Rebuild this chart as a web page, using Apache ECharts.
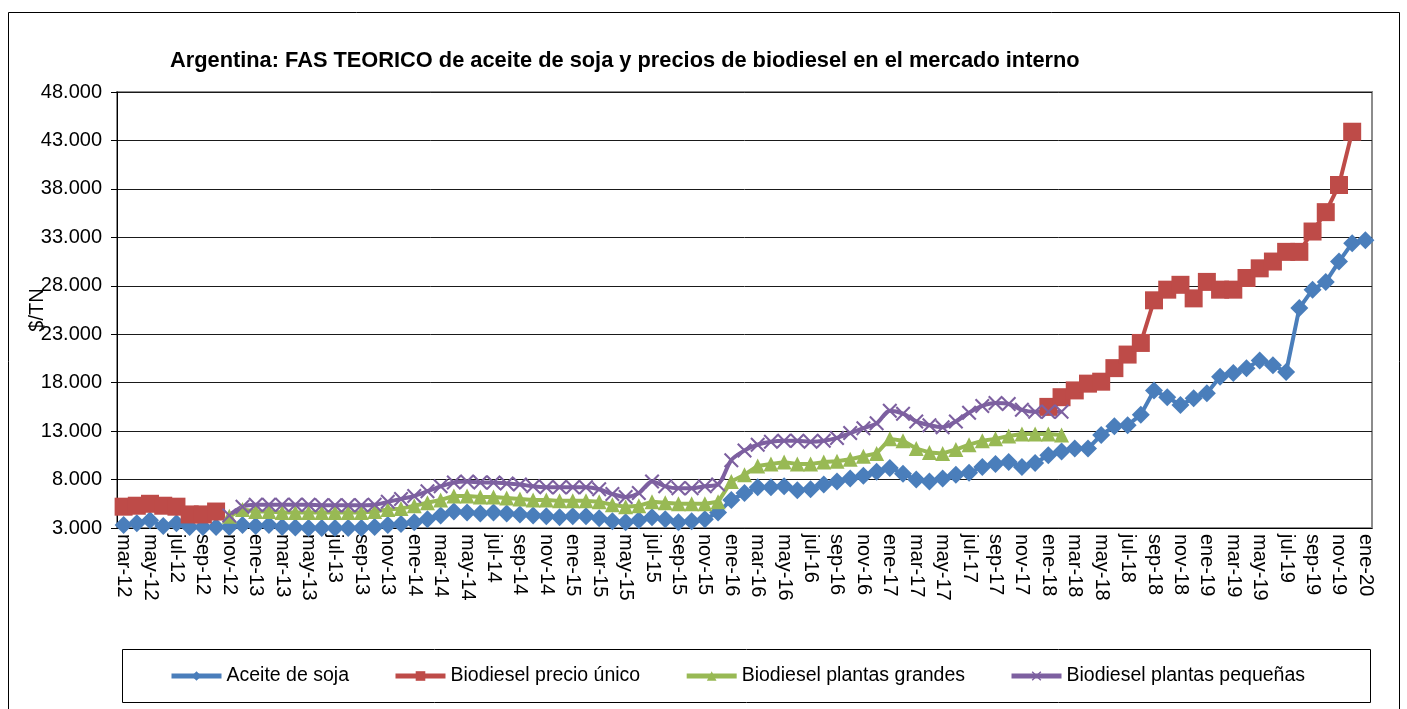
<!DOCTYPE html>
<html>
<head>
<meta charset="utf-8">
<script src="https://cdn.jsdelivr.net/npm/echarts@6.0.0/dist/echarts.min.js"></script>
<style>
  html, body { margin: 0; padding: 0; background: #fff; }
  #chart { width: 1407px; height: 709px; }
</style>
</head>
<body>
<div id="chart"></div>
<script>
// meses mar-12 .. ene-20
const meses = ['ene', 'feb', 'mar', 'abr', 'may', 'jun', 'jul', 'ago', 'sep', 'oct', 'nov', 'dic'];
const categorias = [];
for (let y = 12; y <= 20; y++) {
    for (let m = 0; m < 12; m++) {
        if ((y === 12 && m < 2) || (y === 20 && m > 0)) continue;
        categorias.push(meses[m] + '-' + y);
    }
}

// $/TN
const aceiteSoja = [
    3300, 3500, 3800, 3200, 3500, 3100, 3100, 3100, 3100, 3300,
    3200, 3300, 3100, 3050, 3000, 3000, 3000, 3000, 3000, 3100,
    3300, 3400, 3600, 3900, 4300, 4700, 4600, 4500, 4600, 4500,
    4400, 4300, 4200, 4100, 4200, 4200, 4000, 3700, 3600, 3800,
    4100, 3900, 3600, 3700, 3900, 4600, 5900, 6600, 7200, 7200,
    7300, 6900, 7000, 7500, 7800, 8100, 8400, 8800, 9200, 8600,
    8000, 7800, 8100, 8500, 8700, 9300, 9600, 9800, 9300, 9700,
    10500, 10900, 11200, 11200, 12600, 13500, 13600, 14700, 17200, 16500,
    15700, 16400, 16900, 18600, 19000, 19500, 20300, 19800, 19100, 25700,
    27600, 28400, 30500, 32400, 32700
];

const precioUnico = [
    5200, 5300, 5500, 5300, 5200, 4400, 4400, 4700, null, null,
    null, null, null, null, null, null, null, null, null, null,
    null, null, null, null, null, null, null, null, null, null,
    null, null, null, null, null, null, null, null, null, null,
    null, null, null, null, null, null, null, null, null, null,
    null, null, null, null, null, null, null, null, null, null,
    null, null, null, null, null, null, null, null, null, null,
    15500, 16500, 17200, 17900, 18100, 19500, 20900, 22100, 26500, 27600,
    28100, 26700, 28400, 27600, 27600, 28800, 29800, 30500, 31500, 31500,
    33600, 35600, 38400, 43900, null
];

const plantasGrandes = [
    null, null, null, null, null, null, null, null, 4200, 4900,
    4700, 4700, 4600, 4600, 4600, 4600, 4600, 4600, 4600, 4700,
    4900, 5000, 5300, 5600, 5900, 6300, 6300, 6200, 6200, 6100,
    6000, 5900, 5900, 5800, 5800, 5800, 5700, 5400, 5200, 5300,
    5700, 5600, 5500, 5500, 5500, 5700, 7800, 8500, 9400, 9600,
    9800, 9600, 9600, 9800, 9900, 10100, 10400, 10700, 12200, 12000,
    11200, 10800, 10700, 11100, 11600, 12000, 12200, 12500, 12700, 12700,
    12700, 12600
];

const plantasPequenas = [
    null, null, null, null, null, null, null, null, 4300, 5200,
    5400, 5400, 5400, 5400, 5400, 5350, 5350, 5350, 5350, 5400,
    5700, 6000, 6300, 6800, 7300, 7700, 7800, 7700, 7700, 7600,
    7500, 7300, 7200, 7200, 7200, 7200, 7000, 6500, 6200, 6600,
    7800, 7300, 7100, 7100, 7300, 7500, 10000, 11000, 11600, 11900,
    12000, 12000, 11900, 12000, 12300, 12800, 13300, 13800, 15100, 14800,
    14000, 13600, 13400, 14000, 14900, 15600, 15900, 15800, 15200, 15000,
    15000, 15000
];

const fuente = 'Liberation Sans, Arial, sans-serif';
const simboloX = 'path://M1,0 L5,4 L9,0 L10,1 L6,5 L10,9 L9,10 L5,6 L1,10 L0,9 L4,5 L0,1 Z';

function miles(v) {
    return String(Math.round(v / 1000)) + '.000';
}

const chart = echarts.init(document.getElementById('chart'));

const option = {
    animation: false,
    backgroundColor: '#fff',
    textStyle: { fontFamily: fuente, color: '#000' },
    title: {
        text: 'Argentina: FAS TEORICO de aceite de soja y precios de biodiesel en el mercado interno',
        left: 165,
        top: 45,
        textStyle: { fontFamily: fuente, fontSize: 21.8, fontWeight: 'bold', color: '#000' }
    },
    graphic: [
        {
            type: 'rect', silent: true, z: -1,
            shape: { x: 8.5, y: 12.5, width: 1391, height: 720 },
            style: { fill: 'none', stroke: '#000', lineWidth: 1 }
        },
        {
            type: 'rect', silent: true, z: -1,
            shape: { x: 122.5, y: 649.5, width: 1248, height: 53 },
            style: { fill: 'none', stroke: '#000', lineWidth: 1 }
        }
    ],
    legend: {
        left: 169,
        top: 666,
        padding: 0,
        itemWidth: 50,
        itemHeight: 12,
        itemGap: 44,
        lineStyle: { width: 5 },
        textStyle: { fontFamily: fuente, fontSize: 19.5, color: '#000' },
        data: ['Aceite de soja', 'Biodiesel precio único', 'Biodiesel plantas grandes', 'Biodiesel plantas pequeñas']
    },
    grid: {
        left: 117,
        right: 35,
        top: 92,
        bottom: 181,
        show: true,
        borderColor: '#8c8c8c',
        borderWidth: 2
    },
    xAxis: {
        type: 'category',
        data: categorias,
        boundaryGap: true,
        axisLine: { lineStyle: { color: '#000', width: 1 } },
        axisTick: { interval: 1, length: 6, lineStyle: { color: '#000' } },
        axisLabel: {
            interval: 1,
            rotate: -90,
            margin: 6,
            fontSize: 20,
            color: '#000',
            fontFamily: fuente
        }
    },
    yAxis: {
        type: 'value',
        min: 3000,
        max: 48000,
        interval: 5000,
        name: '$/TN',
        nameLocation: 'middle',
        nameRotate: 90,
        nameGap: 70,
        nameMoveOverlap: false,
        nameTextStyle: { fontSize: 20, color: '#000', fontFamily: fuente },
        axisLine: { show: true, lineStyle: { color: '#000', width: 1 } },
        axisTick: { show: true, length: 6, lineStyle: { color: '#000' } },
        axisLabel: { formatter: miles, fontSize: 20, margin: 15, color: '#000', fontFamily: fuente },
        splitLine: { lineStyle: { color: '#1a1a1a', width: 1 } }
    },
    series: [
        {
            name: 'Aceite de soja',
            type: 'line',
            data: aceiteSoja,
            showAllSymbol: true,
            symbol: 'diamond',
            symbolSize: 18,
            lineStyle: { width: 4, color: '#4a7ebb' },
            itemStyle: { color: '#4a7ebb' }
        },
        {
            name: 'Biodiesel precio único',
            type: 'line',
            data: precioUnico,
            showAllSymbol: true,
            symbol: 'rect',
            symbolSize: 18,
            lineStyle: { width: 4, color: '#be4b48' },
            itemStyle: { color: '#be4b48' }
        },
        {
            name: 'Biodiesel plantas grandes',
            type: 'line',
            data: plantasGrandes,
            showAllSymbol: true,
            symbol: 'triangle',
            symbolSize: 15,
            lineStyle: { width: 4, color: '#98b954' },
            itemStyle: { color: '#98b954' }
        },
        {
            name: 'Biodiesel plantas pequeñas',
            type: 'line',
            data: plantasPequenas,
            showAllSymbol: true,
            smooth: 0.3,
            symbol: simboloX,
            symbolSize: 15,
            lineStyle: { width: 4, color: '#7d60a0' },
            itemStyle: { color: '#7d60a0' }
        }
    ]
};

chart.setOption(option);
</script>
</body>
</html>
